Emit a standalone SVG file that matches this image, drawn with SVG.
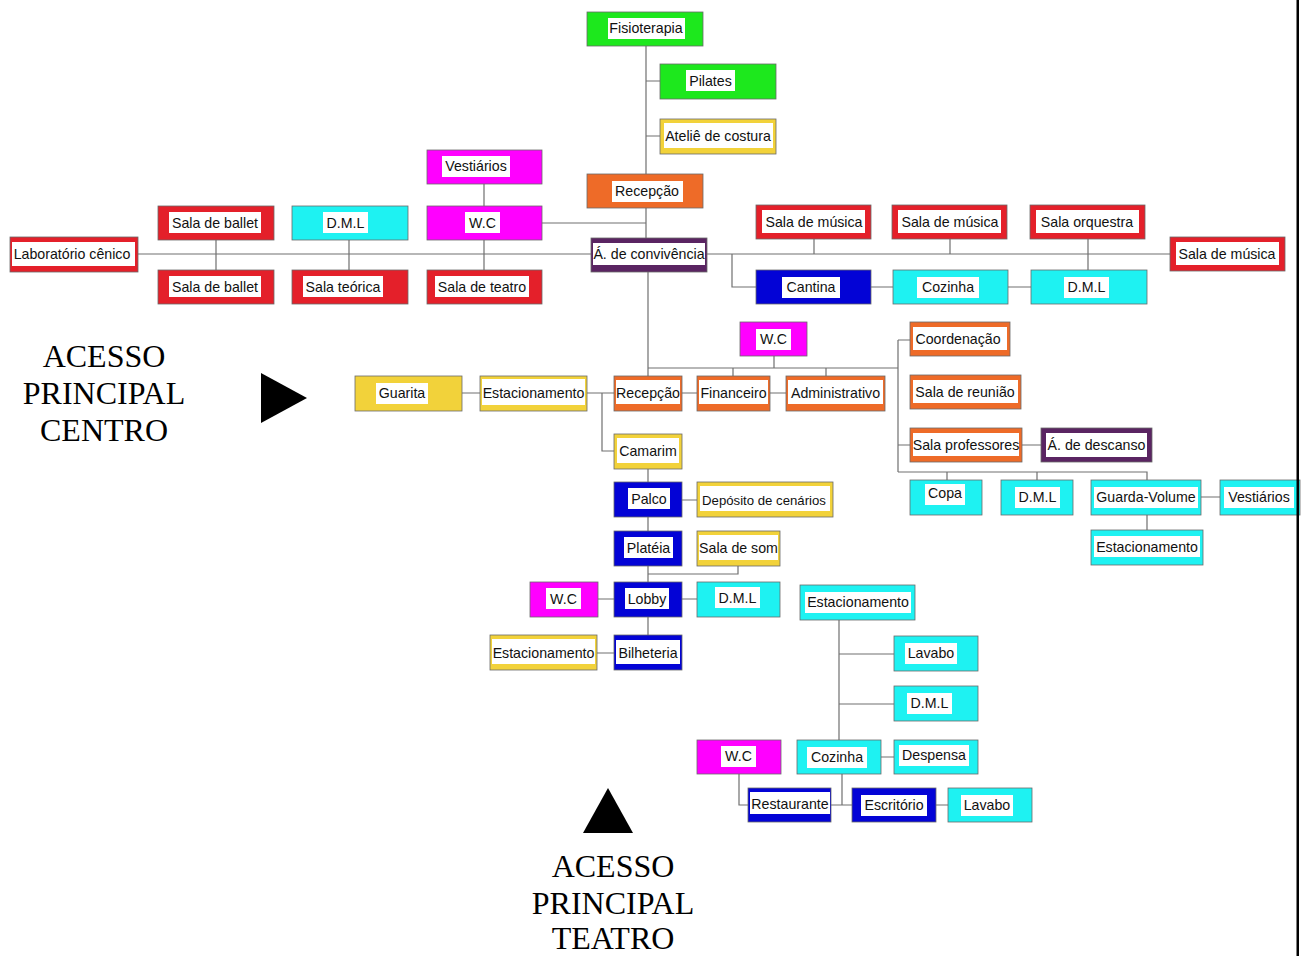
<svg xmlns="http://www.w3.org/2000/svg" width="1304" height="956" viewBox="0 0 1304 956">
<style>
.bx{stroke:#6a6a6a;stroke-width:0.8}
.g{fill:#1de81d}.y{fill:#f2d23a}.o{fill:#ee6b28}.m{fill:#ff00ff}.c{fill:#1ef2f2}.r{fill:#e4202a}.b{fill:#0303d6}.p{fill:#5a2462}
.w{fill:#ffffff}
.t{font-family:"Liberation Sans",Arial,sans-serif;font-size:14.2px;fill:#111;text-anchor:middle}
.s{font-size:13.2px}
.big{font-family:"Liberation Serif","Times New Roman",serif;font-size:32px;fill:#000;text-anchor:middle}
#connectors path{fill:none;stroke:#707070;stroke-width:1.2}
</style>
<rect width="1304" height="956" fill="#fff"/>
<g id="connectors">
<path d="M646 46V174M646 81H660M646 136H660M646 208V238M542 223H646M484 184V206M484 240V270M216 240V270M349 240V270M138 254H591M707 254H1170M814 239V254M950 239V254M1088 239V270M732 254V287H756M871 287H893M1008 287H1031"/>
<path d="M648 272V376M648 368H898M774 356V368M733 368V376M826 368V376M898 340V472M898 340H910M898 445H910M898 472H1147V480M947 472V480M1037 472V480M1201 497H1220M1147 515V530M1022 445H1041"/>
<path d="M462 393H480M587 393H614M602 393V451H614M682 393H697M770 393H786M648 469V482M682 500H697M648 517V531M648 566V582M738 566V574H648M598 599H614M682 599H697M648 617V635M597 653H614"/>
<path d="M839 620V740M839 654H894M839 704H894M881 757H894M842 774V805M831 805H852M936 805H948M739 774V805H748"/>
</g>
<g id="fisioterapia"><rect class="bx g" x="587" y="12" width="116" height="34"/><rect class="w" x="608" y="18" width="77" height="21"/><text class="t" x="646" y="33">Fisioterapia</text></g>
<g id="pilates"><rect class="bx g" x="660" y="64" width="116" height="35"/><rect class="w" x="686" y="70" width="49" height="21"/><text class="t" x="710.5" y="86">Pilates</text></g>
<g id="atelie"><rect class="bx y" x="660" y="119" width="116" height="35"/><rect class="w" x="664" y="123" width="109" height="25"/><text class="t" x="718" y="141">Ateliê de costura</text></g>
<g id="recepcao1"><rect class="bx o" x="587" y="174" width="116" height="34"/><rect class="w" x="612" y="181" width="71" height="21"/><text class="t" x="647" y="196">Recepção</text></g>
<g id="vestiarios1"><rect class="bx m" x="427" y="150" width="115" height="34"/><rect class="w" x="442" y="156" width="68" height="21"/><text class="t" x="476" y="171">Vestiários</text></g>
<g id="wc1"><rect class="bx m" x="427" y="206" width="115" height="34"/><rect class="w" x="465" y="212" width="35" height="21"/><text class="t" x="482.5" y="228">W.C</text></g>
<g id="dml1"><rect class="bx c" x="292" y="206" width="116" height="34"/><rect class="w" x="323" y="212" width="45" height="21"/><text class="t" x="345.5" y="228">D.M.L</text></g>
<g id="ballet1"><rect class="bx r" x="158" y="206" width="116" height="34"/><rect class="w" x="169" y="212" width="92" height="21"/><text class="t" x="215" y="228">Sala de ballet</text></g>
<g id="laboratorio"><rect class="bx r" x="10" y="237" width="128" height="35"/><rect class="w" x="12" y="242" width="123" height="24"/><text class="t" x="72" y="259">Laboratório cênico</text></g>
<g id="ballet2"><rect class="bx r" x="158" y="270" width="116" height="34"/><rect class="w" x="169" y="276" width="92" height="21"/><text class="t" x="215" y="292">Sala de ballet</text></g>
<g id="teorica"><rect class="bx r" x="292" y="270" width="116" height="34"/><rect class="w" x="303" y="276" width="80" height="21"/><text class="t" x="343" y="292">Sala teórica</text></g>
<g id="teatro"><rect class="bx r" x="427" y="270" width="115" height="34"/><rect class="w" x="435" y="276" width="94" height="21"/><text class="t" x="482" y="292">Sala de teatro</text></g>
<g id="convivencia"><rect class="bx p" x="591" y="238" width="116" height="34"/><rect class="w" x="593" y="243" width="112" height="22"/><text class="t" x="649" y="259">Á. de convivência</text></g>
<g id="musica1"><rect class="bx r" x="756" y="205" width="115" height="34"/><rect class="w" x="762" y="210" width="103" height="23"/><text class="t" x="814" y="227">Sala de música</text></g>
<g id="musica2"><rect class="bx r" x="892" y="205" width="115" height="34"/><rect class="w" x="898" y="210" width="103" height="23"/><text class="t" x="950" y="227">Sala de música</text></g>
<g id="orquestra"><rect class="bx r" x="1030" y="205" width="115" height="34"/><rect class="w" x="1036" y="210" width="103" height="23"/><text class="t" x="1087" y="227">Sala orquestra</text></g>
<g id="musica4"><rect class="bx r" x="1170" y="237" width="115" height="34"/><rect class="w" x="1176" y="242" width="103" height="23"/><text class="t" x="1227" y="259">Sala de música</text></g>
<g id="cantina"><rect class="bx b" x="756" y="270" width="115" height="34"/><rect class="w" x="782" y="277" width="58" height="21"/><text class="t" x="811" y="292">Cantina</text></g>
<g id="cozinha1"><rect class="bx c" x="893" y="270" width="115" height="34"/><rect class="w" x="917" y="277" width="62" height="21"/><text class="t" x="948" y="292">Cozinha</text></g>
<g id="dml2"><rect class="bx c" x="1031" y="270" width="116" height="34"/><rect class="w" x="1064" y="277" width="45" height="21"/><text class="t" x="1086.5" y="292">D.M.L</text></g>
<g id="wc2"><rect class="bx m" x="740" y="322" width="67" height="34"/><rect class="w" x="756" y="329" width="35" height="21"/><text class="t" x="773.5" y="344">W.C</text></g>
<g id="coordenacao"><rect class="bx o" x="910" y="322" width="100" height="34"/><rect class="w" x="913" y="327" width="94" height="23"/><text class="t" x="958" y="344">Coordenação</text></g>
<g id="reuniao"><rect class="bx o" x="910" y="375" width="111" height="34"/><rect class="w" x="913" y="380" width="105" height="23"/><text class="t" x="965" y="397">Sala de reunião</text></g>
<g id="professores"><rect class="bx o" x="910" y="428" width="112" height="34"/><rect class="w" x="913" y="433" width="106" height="23"/><text class="t" x="966" y="450">Sala professores</text></g>
<g id="descanso"><rect class="bx p" x="1041" y="428" width="111" height="34"/><rect class="w" x="1046" y="433" width="101" height="24"/><text class="t" x="1096.5" y="450">Á. de descanso</text></g>
<g id="guarita"><rect class="bx y" x="355" y="376" width="107" height="35"/><rect class="w" x="376" y="383" width="52" height="21"/><text class="t" x="402" y="398">Guarita</text></g>
<g id="estacionamento1"><rect class="bx y" x="480" y="376" width="107" height="35"/><rect class="w" x="482" y="379" width="103" height="26"/><text class="t" x="533.5" y="398">Estacionamento</text></g>
<g id="recepcao2"><rect class="bx o" x="614" y="376" width="68" height="35"/><rect class="w" x="616" y="380" width="64" height="24"/><text class="t" x="648" y="398">Recepção</text></g>
<g id="financeiro"><rect class="bx o" x="697" y="376" width="73" height="35"/><rect class="w" x="699" y="380" width="69" height="24"/><text class="t" x="733.5" y="398">Financeiro</text></g>
<g id="administrativo"><rect class="bx o" x="786" y="376" width="99" height="35"/><rect class="w" x="788" y="380" width="95" height="24"/><text class="t" x="835.5" y="398">Administrativo</text></g>
<g id="camarim"><rect class="bx y" x="614" y="434" width="68" height="35"/><rect class="w" x="617" y="438" width="62" height="25"/><text class="t" x="648" y="456">Camarim</text></g>
<g id="copa"><rect class="bx c" x="910" y="480" width="72" height="35"/><rect class="w" x="925" y="484" width="40" height="21"/><text class="t" x="945" y="498">Copa</text></g>
<g id="dml3"><rect class="bx c" x="1001" y="480" width="72" height="35"/><rect class="w" x="1015" y="487" width="45" height="21"/><text class="t" x="1037.5" y="502">D.M.L</text></g>
<g id="guarda"><rect class="bx c" x="1091" y="480" width="110" height="35"/><rect class="w" x="1094" y="487" width="104" height="21"/><text class="t" x="1146" y="502">Guarda-Volume</text></g>
<g id="vestiarios2"><rect class="bx c" x="1220" y="480" width="80" height="35"/><rect class="w" x="1224" y="487" width="70" height="21"/><text class="t" x="1259" y="502">Vestiários</text></g>
<g id="estacionamento2"><rect class="bx c" x="1091" y="530" width="112" height="35"/><rect class="w" x="1094" y="536" width="106" height="21"/><text class="t" x="1147" y="552">Estacionamento</text></g>
<g id="palco"><rect class="bx b" x="614" y="482" width="68" height="35"/><rect class="w" x="628" y="488" width="42" height="21"/><text class="t" x="649" y="504">Palco</text></g>
<g id="deposito"><rect class="bx y" x="697" y="482" width="136" height="35"/><rect class="w" x="700" y="486" width="130" height="25"/><text class="t s" x="764" y="505">Depósito de cenários</text></g>
<g id="plateia"><rect class="bx b" x="614" y="531" width="68" height="35"/><rect class="w" x="624" y="537" width="49" height="21"/><text class="t" x="648.5" y="553">Platéia</text></g>
<g id="som"><rect class="bx y" x="697" y="531" width="83" height="35"/><rect class="w" x="699" y="535" width="79" height="25"/><text class="t" x="738.5" y="553">Sala de som</text></g>
<g id="wc3"><rect class="bx m" x="530" y="582" width="68" height="35"/><rect class="w" x="546" y="588" width="35" height="21"/><text class="t" x="563.5" y="604">W.C</text></g>
<g id="lobby"><rect class="bx b" x="614" y="582" width="68" height="35"/><rect class="w" x="625" y="588" width="44" height="21"/><text class="t" x="647" y="604">Lobby</text></g>
<g id="dml4"><rect class="bx c" x="697" y="582" width="83" height="35"/><rect class="w" x="715" y="587" width="45" height="21"/><text class="t" x="737.5" y="603">D.M.L</text></g>
<g id="estacionamento3"><rect class="bx y" x="490" y="635" width="107" height="35"/><rect class="w" x="492" y="639" width="103" height="25"/><text class="t" x="543.5" y="658">Estacionamento</text></g>
<g id="bilheteria"><rect class="bx b" x="614" y="635" width="68" height="35"/><rect class="w" x="616" y="640" width="64" height="24"/><text class="t" x="648" y="658">Bilheteria</text></g>
<g id="estacionamento4"><rect class="bx c" x="800" y="585" width="115" height="35"/><rect class="w" x="805" y="592" width="106" height="21"/><text class="t" x="858" y="607">Estacionamento</text></g>
<g id="lavabo1"><rect class="bx c" x="894" y="636" width="84" height="35"/><rect class="w" x="905" y="643" width="52" height="21"/><text class="t" x="931" y="658">Lavabo</text></g>
<g id="dml5"><rect class="bx c" x="894" y="686" width="84" height="35"/><rect class="w" x="907" y="693" width="45" height="21"/><text class="t" x="929.5" y="708">D.M.L</text></g>
<g id="wc4"><rect class="bx m" x="697" y="740" width="84" height="34"/><rect class="w" x="721" y="746" width="35" height="21"/><text class="t" x="738.5" y="761">W.C</text></g>
<g id="cozinha2"><rect class="bx c" x="797" y="740" width="84" height="34"/><rect class="w" x="807" y="747" width="60" height="21"/><text class="t" x="837" y="762">Cozinha</text></g>
<g id="despensa"><rect class="bx c" x="894" y="740" width="84" height="34"/><rect class="w" x="899" y="745" width="70" height="21"/><text class="t" x="934" y="760">Despensa</text></g>
<g id="restaurante"><rect class="bx b" x="748" y="788" width="83" height="34"/><rect class="w" x="750" y="792" width="80" height="22"/><text class="t" x="790" y="809">Restaurante</text></g>
<g id="escritorio"><rect class="bx b" x="852" y="788" width="84" height="34"/><rect class="w" x="861" y="795" width="66" height="21"/><text class="t" x="894" y="810">Escritório</text></g>
<g id="lavabo2"><rect class="bx c" x="948" y="788" width="84" height="34"/><rect class="w" x="961" y="795" width="52" height="21"/><text class="t" x="987" y="810">Lavabo</text></g>
<g id="acesso-centro">
<text class="big" x="104" y="367">ACESSO</text>
<text class="big" x="104" y="404">PRINCIPAL</text>
<text class="big" x="104" y="441">CENTRO</text>
<polygon points="261,373 307,398 261,423" fill="#000"/>
</g>
<g id="acesso-teatro">
<polygon points="583,833 608,788 633,833" fill="#000"/>
<text class="big" x="613" y="877">ACESSO</text>
<text class="big" x="613" y="914">PRINCIPAL</text>
<text class="big" x="613" y="949">TEATRO</text>
</g>
<rect x="1296.5" y="0" width="2.5" height="956" fill="#000"/>
</svg>
